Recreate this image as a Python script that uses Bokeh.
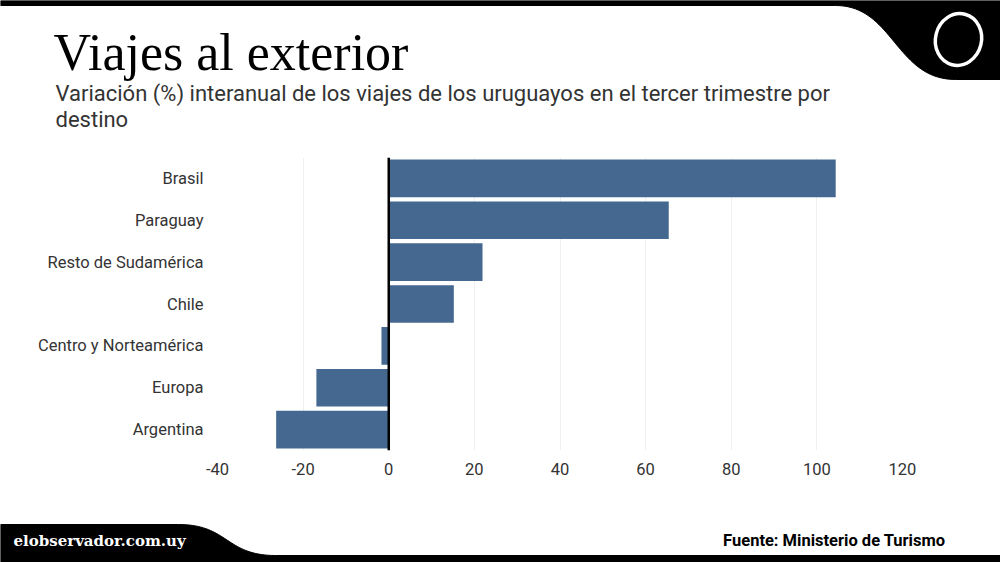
import numpy as np
from bokeh.plotting import figure
from bokeh.layouts import column
from bokeh.models import Range1d, FactorRange, Span, FixedTicker
from bokeh.core.properties import value
from bokeh.embed import file_html
from bokeh.resources import INLINE

# Data: year-on-year change (%) in trips abroad, third quarter, by destination
destinos = ["Brasil", "Paraguay", "Resto de Sudamérica", "Chile",
            "Centro y Norteamérica", "Europa", "Argentina"]
variacion = [104.4, 65.4, 21.9, 15.2, -1.7, -16.9, -26.3]
x_ticks = [-40, -20, 0, 20, 40, 60, 80, 100, 120]

title_text = "Viajes al exterior"
subtitle_1 = "Variación (%) interanual de los viajes de los uruguayos en el tercer trimestre por"
subtitle_2 = "destino"
brand_text = "elobservador.com.uy"
source_text = "Fuente: Ministerio de Turismo"

BAR = "#44688f"
TXT = "#333333"


def bezier(p0, p1, p2, p3, n=40):
    t = np.linspace(0, 1, n)[:, None]
    pts = ((1 - t) ** 3) * np.array(p0) + 3 * ((1 - t) ** 2) * t * np.array(p1) \
        + 3 * (1 - t) * t ** 2 * np.array(p2) + t ** 3 * np.array(p3)
    return list(pts[:, 0]), list(pts[:, 1])


def blank(height, y0, y1):
    f = figure(width=1000, height=height, x_range=Range1d(0, 1000),
               y_range=Range1d(y1, y0), output_backend="svg",
               toolbar_location=None, min_border=0, frame_align=False)
    f.axis.visible = False
    f.grid.visible = False
    f.outline_line_color = None
    f.background_fill_color = "white"
    f.border_fill_color = "white"
    return f


# ---- header ----
head = blank(150, 0, 150)
cx, cy = bezier((835, 5), (893, 5), (895, 79), (955, 79))
hx = [0] + cx + [1000, 1000, 0]
hy = [5] + cy + [79, 0, 0]
head.patch(hx, hy, fill_color="black", line_color="black")
head.ellipse(x=[958], y=[39], width=[46], height=[52], angle=[-0.25],
             fill_color=None, line_color="white", line_width=3.5)
head.text(x=[53], y=[52], text=[title_text], text_font=value("Liberation Serif"),
          text_font_size="52px", text_color="black", text_baseline="alphabetic")
head.text(x=[55], y=[93], text=[subtitle_1], text_font=value("Roboto"),
          text_font_size="22px", text_color=TXT, text_baseline="alphabetic")
head.text(x=[55], y=[119], text=[subtitle_2], text_font=value("Roboto"),
          text_font_size="22px", text_color=TXT, text_baseline="alphabetic")

# ---- chart ----
p = figure(width=1000, height=350, y_range=FactorRange(*reversed(destinos)),
           x_range=Range1d(-40, 120), output_backend="svg",
           toolbar_location=None, min_border_left=217, min_border_right=98,
           min_border_top=7, min_border_bottom=50, frame_align=False)
p.outline_line_color = None
p.y_range.range_padding = 0
p.hbar(y=destinos, left=0, right=variacion, height=0.9, fill_color=BAR,
       line_color=None)
p.add_layout(Span(location=0, dimension="height", line_color="black",
                  line_width=2.5))
p.xaxis.ticker = FixedTicker(ticks=x_ticks)
p.xaxis.major_label_overrides = {t: str(t) for t in x_ticks}
p.ygrid.visible = False
p.xgrid.grid_line_color = "#f0f0f0"
p.xgrid.grid_line_width = 1
for ax in (p.xaxis[0], p.yaxis[0]):
    ax.axis_line_color = None
    ax.major_tick_line_color = None
    ax.minor_tick_line_color = None
    ax.major_label_text_font = "Roboto"
    ax.major_label_text_font_size = "16.5px"
    ax.major_label_text_color = TXT
p.yaxis.major_label_standoff = 8
p.xaxis.major_label_standoff = 6

# ---- footer ----
foot = blank(62, 500, 562)
fx, fy = bezier((178, 524), (228, 524), (225, 555), (275, 555))
px_ = [0] + fx + [1000, 1000, 0]
py_ = [524] + fy + [555, 562, 562]
foot.patch(px_, py_, fill_color="black", line_color="black")
foot.text(x=[13], y=[540], text=[brand_text], text_font=value("DejaVu Serif"),
          text_font_size="15px", text_font_style="bold", text_color="white",
          text_baseline="alphabetic")
foot.text(x=[945], y=[540], text=[source_text], text_font=value("Roboto"),
          text_font_size="16.5px", text_font_style="bold", text_color="black",
          text_align="right", text_baseline="alphabetic")

page = column(head, p, foot, spacing=0)
open("out.html", "w").write(file_html(page, INLINE))
